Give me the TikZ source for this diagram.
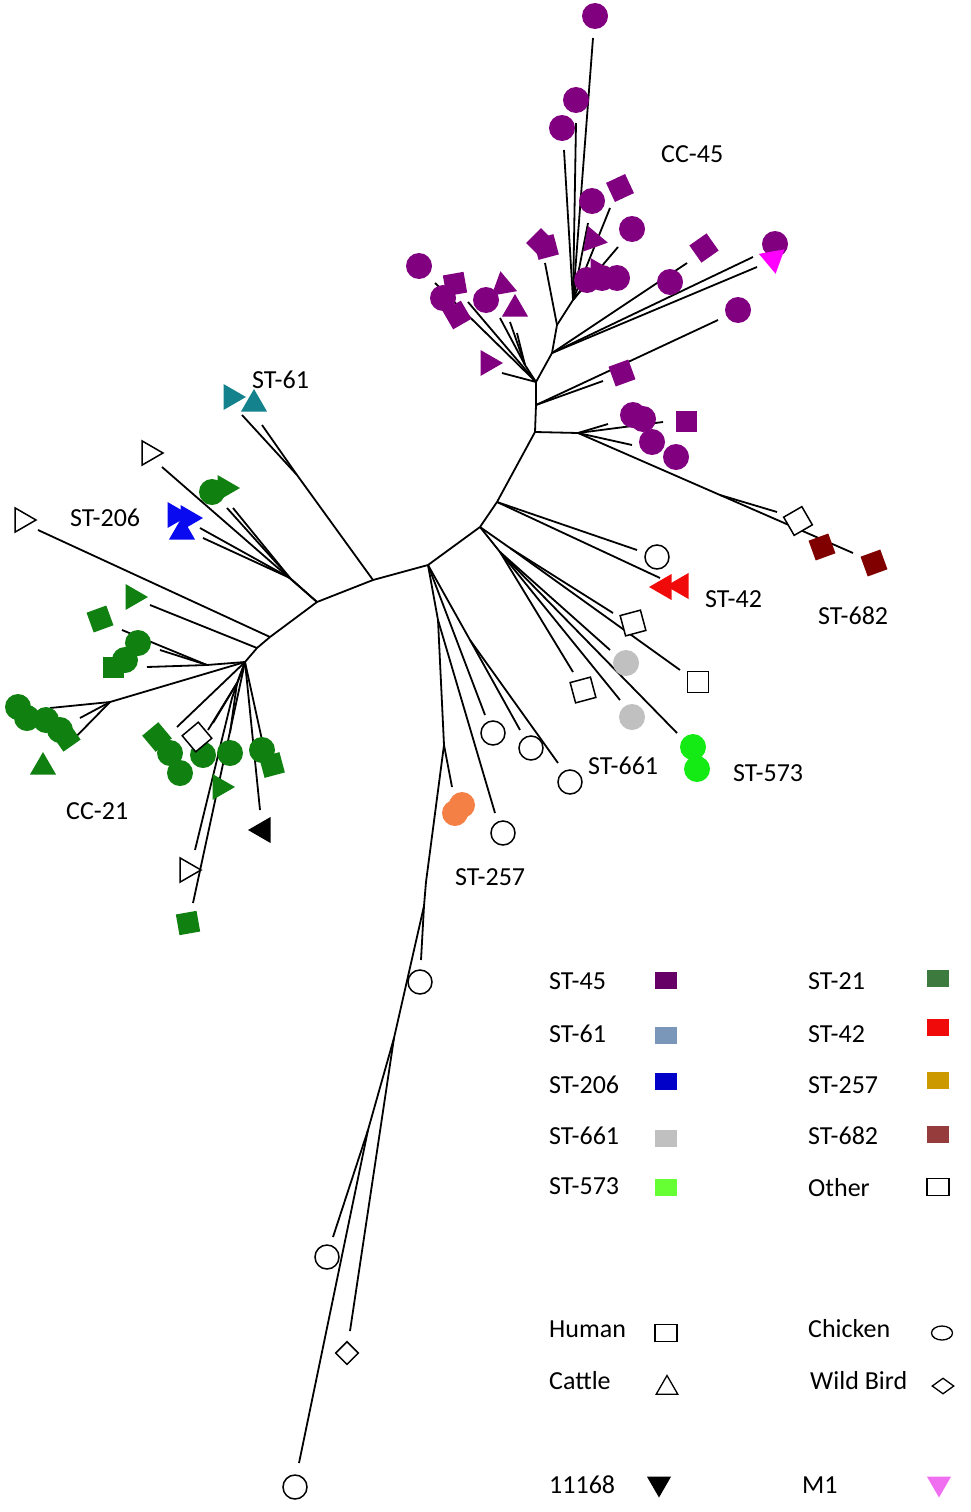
\documentclass[tikz,border=0pt]{standalone}
\usepackage{fontspec}
\setmainfont{Carlito}
\usetikzlibrary{shapes.geometric}

\definecolor{st45}{RGB}{128,0,128}
\definecolor{st45key}{RGB}{102,0,102}
\definecolor{st61}{RGB}{20,130,140}
\definecolor{st61key}{RGB}{122,150,184}
\definecolor{st206}{RGB}{10,10,240}
\definecolor{st206key}{RGB}{0,0,200}
\definecolor{st661}{RGB}{192,192,192}
\definecolor{st573}{RGB}{20,235,20}
\definecolor{st573key}{RGB}{102,255,51}
\definecolor{st21}{RGB}{16,128,16}
\definecolor{st21key}{RGB}{61,122,61}
\definecolor{st42}{RGB}{240,10,10}
\definecolor{st257}{RGB}{245,128,70}
\definecolor{st257key}{RGB}{204,153,0}
\definecolor{st682}{RGB}{128,0,0}
\definecolor{st682key}{RGB}{150,60,60}
\definecolor{mone}{RGB}{255,0,255}
\definecolor{monekey}{RGB}{240,110,240}

\tikzset{
  branch/.style={line width=1.8pt},
  dot/.style={circle, fill=#1, minimum size=26pt, inner sep=0pt},
  box/.style={rectangle, fill=#1, minimum size=21pt, inner sep=0pt},
  tri/.style={regular polygon, regular polygon sides=3, fill=#1, minimum size=30pt, inner sep=0pt},
  whitefill/.style={fill=white, draw=black, line width=1.5pt},
  lbl/.style={anchor=base west, inner sep=0pt, font=\fontsize{26}{30}\selectfont},
  swatch/.style={rectangle, fill=#1, minimum width=22pt, minimum height=17pt, inner sep=0pt},
}

\begin{document}
\begin{tikzpicture}[x=1pt, y=-1pt]
\useasboundingbox (0,0) rectangle (970,1512);

% inner points of the tree
\foreach \n/\x/\y in {b1/535/432, b2/497/502, b3/480/527, b4/428/565, b5/373/580,
  b6/317/602, b7/270/637, b8/257/648, b9/245/662,
  c00/536/405, c0/536/382, c1/552/353, c2/557/325, c3/573/300, c0a/525/365,
  p1/578/433, p2/720/495, q2/510/548, q3/500/552, q4/470/640, q5/438/620,
  q6/444/745, q7/426/882, q8/424/906, q9/394/1038, q10/368/1130,
  s61/297/475, s206/290/578, k1/207/665, k2/110/702, k3/237/683, k4/232/698}
  \coordinate (\n) at (\x,\y);

% free ends of the branches
\foreach \n/\x/\y in {e1/718/320, e2/603/381, e3/502/373, e4/468/302, e5/435/283,
  e5b/500/318, e5c/510/322, e5d/517/333, e6/753/257, e7/757/267, e8/687/263,
  e9/545/263, e10/593/38, e11/576/123, e12/564/150, e13/588/223, e14/610/208,
  e15/618/247, e16/598/268, e17/663/422, e18/608/424, e18b/632/445,
  e19/853/553, e19b/777/512, e20/637/550, e21/660/578, e22/613/613, e23/680/670,
  e24/573/672, e25/610/650, e26/620/700, e27/677/733, e28/520/730, e29/558/763,
  e30/485/715, e31/495/813, e32/452/787, e33/421/960, e34/333/1237, e35/299/1463,
  e36/350/1331, e37/242/415, e38/262/425, e39/162/467, e40/227/508, e41/233/508,
  e42/200/528, e43/203/538, e44/38/530, e45/150/605, e46/122/630, e47/147/667,
  e48/160/650, e49/50/708, e50/63/750, e51/80/718, e52/177/727, e53/213/723,
  e54/208/730, e58/230/733, e59/195/850, e55/193/903, e56/260/810, e57/262/740}
  \coordinate (\n) at (\x,\y);

% branches
\foreach \a/\b in {b1/b2, b2/b3, b3/b4, b4/b5, b5/b6, b6/b7, b7/b8, b8/b9,
  b1/c00, c00/c0, c0/c1, c1/c2, c2/c3, c0/c0a, c00/e1, c00/e2, c0/e3, c0/e4, c0/e5,
  c0a/e5b, c0a/e5c, c0a/e5d, c1/e6, c1/e7, c1/e8, c2/e9, c3/e10, c3/e11, c3/e12,
  c3/e13, c3/e14, c3/e15, c3/e16, b1/p1, p1/p2, p1/e17, p1/e18, p1/e18b, p2/e19,
  p2/e19b, b2/e20, b2/e21, b3/q2, b3/q3, q2/e22, q2/e23, q3/e24, q3/e25, q3/e26,
  q3/e27, b4/q4, b4/q5, b4/e30, q4/e28, q4/e29, q5/e31, q5/q6, q6/e32, q6/q7,
  q7/q8, q8/e33, q8/q9, q9/q10, q9/e36, q10/e34, q10/e35, b5/s61, s61/e37, s61/e38,
  b6/e39, b6/s206, s206/e40, s206/e41, s206/e42, s206/e43, b7/e44, b8/e45,
  b9/k1, b9/k2, b9/k3, b9/k4, k1/e46, k1/e47, k1/e48, k2/e49, k2/e50, k2/e51,
  b9/e52, k3/e53, k3/e54, k3/e58, k4/e59, b9/e55, b9/e56, b9/e57}
  \draw[branch] (\a) -- (\b);

% CC-45 isolates
\node[tri=st45, rotate=-90] (ptri0) at (598,271) {};
\foreach \x/\y [count=\i] in {595/16, 576/100, 562/128, 592/201, 632/229, 419/266,
  443/298, 486/300, 587/280, 602/278, 617/278, 670/282, 738/310, 775/244,
  633/415, 643/419, 652/442, 676/457}
  \node[dot=st45] (pdot\i) at (\x,\y) {};
\foreach \x/\y/\r [count=\i] in {620/188/25, 704/248/35, 541/243/45, 546/247/15,
  455/284/10, 457/315/30, 622/373/20, 686/421/0}
  \node[box=st45, rotate=\r] (pbox\i) at (\x,\y) {};
\foreach \x/\y/\r [count=\i] in {593/240/-100, 503/286/10, 515/309/0, 488/363/-90}
  \node[tri=st45, rotate=\r] (ptri\i) at (\x,\y) {};
\node[tri=mone, rotate=190] (mone) at (773,259) {};

% right hand clades
\foreach \x/\y [count=\i] in {822/547, 874/563}
  \node[box=st682, rotate=20] (rbox\i) at (\x,\y) {};
\foreach \x/\y/\r [count=\i] in {798/521/30, 633/623/15, 698/682/0, 583/690/15}
  \node[box=white, whitefill, rotate=\r] (obox\i) at (\x,\y) {};
\foreach \x/\y [count=\i] in {657/557, 493/733, 531/748, 570/782, 503/833,
  420/982, 327/1257, 295/1487}
  \node[dot=white, whitefill, minimum size=24pt] (odot\i) at (\x,\y) {};
\foreach \x/\y [count=\i] in {664/587, 681/586}
  \node[tri=st42, rotate=90] (rtri\i) at (\x,\y) {};
\foreach \x/\y [count=\i] in {626/663, 632/717}
  \node[dot=st661] (gdot\i) at (\x,\y) {};
\foreach \x/\y [count=\i] in {693/747, 697/769}
  \node[dot=st573] (ldot\i) at (\x,\y) {};
\foreach \x/\y [count=\i] in {462/805, 455/813}
  \node[dot=st257] (odot\i) at (\x,\y) {};
\node[box=white, whitefill, rotate=45, minimum size=16pt] (wbird2) at (347,1353) {};

% left hand clades
\foreach \x/\y/\r [count=\i] in {231/397/-90, 254/404/0}
  \node[tri=st61, rotate=\r] (ttri\i) at (\x,\y) {};
\foreach \x/\y [count=\i] in {149/453, 22/520, 187/870}
  \node[tri=white, whitefill, rotate=-90, minimum size=28pt] (otri\i) at (\x,\y) {};
\foreach \x/\y [count=\i] in {212/492, 138/643, 125/660, 18/707, 27/718, 46/720,
  60/730, 170/753, 180/773, 203/755, 230/753, 262/750}
  \node[dot=st21] (cdot\i) at (\x,\y) {};
\foreach \x/\y/\r [count=\i] in {100/619/20, 113/667/0, 66/737/35, 157/737/40,
  272/765/15, 188/923/10}
  \node[box=st21, rotate=\r] (cbox\i) at (\x,\y) {};
\foreach \x/\y/\r [count=\i] in {225/488/-90, 133/597/-90, 43/767/0, 220/787/-90}
  \node[tri=st21, rotate=\r] (ctri\i) at (\x,\y) {};
\foreach \x/\y/\r [count=\i] in {175/515/-90, 188/518/-90, 182/532/0}
  \node[tri=st206, rotate=\r] (btri\i) at (\x,\y) {};
\node[box=white, whitefill, rotate=40] (wbird1) at (197,737) {};
\node[tri=black, rotate=90] (ref) at (263,830) {};

% clade labels
\node[lbl] (lcc45) at (661,162) {CC-45};
\node[lbl] (lst61) at (252,388) {ST-61};
\node[lbl] (lst206) at (70,526) {ST-206};
\node[lbl] (lst42) at (705,607) {ST-42};
\node[lbl] (lst682) at (818,624) {ST-682};
\node[lbl] (lst661) at (588,774) {ST-661};
\node[lbl] (lst573) at (733,781) {ST-573};
\node[lbl] (lst257) at (455,885) {ST-257};
\node[lbl] (lcc21) at (66,819) {CC-21};

% key of sequence types
\foreach \t/\y/\s/\c [count=\i] in {ST-45/989/980/st45key, ST-61/1042/1035/st61key,
  ST-206/1093/1081/st206key, ST-661/1144/1138/st661, ST-573/1194/1187/st573key}
  {\node[lbl] (kl\i) at (549,\y) {\t};
   \node[swatch=\c] (sl\i) at (666,\s) {};}
\foreach \t/\y/\s/\c [count=\i] in {ST-21/989/978/st21key, ST-42/1042/1027/st42,
  ST-257/1093/1080/st257key, ST-682/1144/1134/st682key}
  {\node[lbl] (kr\i) at (808,\y) {\t};
   \node[swatch=\c] (sr\i) at (938,\s) {};}
\node[lbl] (kr5) at (808,1196) {Other};
\node[swatch=white, draw=black, line width=1.3pt] (sr5) at (938,1187) {};

% key of hosts
\node[lbl] (khuman) at (549,1337) {Human};
\node[rectangle, draw, line width=1.3pt, minimum width=22pt, minimum height=17pt,
  inner sep=0pt] (shuman) at (666,1333) {};
\node[lbl] (kchicken) at (808,1337) {Chicken};
\node[ellipse, draw, line width=1.3pt, minimum width=21pt, minimum height=14pt,
  inner sep=0pt] (schicken) at (942,1333) {};
\node[lbl] (kcattle) at (549,1389) {Cattle};
\node[regular polygon, regular polygon sides=3, draw, line width=1.3pt,
  minimum size=25pt, inner sep=0pt] (scattle) at (667,1388) {};
\node[lbl] (kwild) at (810,1389) {Wild Bird};
\node[diamond, draw, line width=1.3pt, minimum width=22pt, minimum height=16pt,
  inner sep=0pt] (swild) at (943,1386) {};
\node[lbl] (kref) at (549,1493) {11168};
\node[tri=black, rotate=180, minimum size=28pt] (sref) at (659,1483.5) {};
\node[lbl] (kmone) at (802,1493) {M1};
\node[tri=monekey, rotate=180, minimum size=28pt] (smone) at (939,1483.5) {};
\end{tikzpicture}
\end{document}
